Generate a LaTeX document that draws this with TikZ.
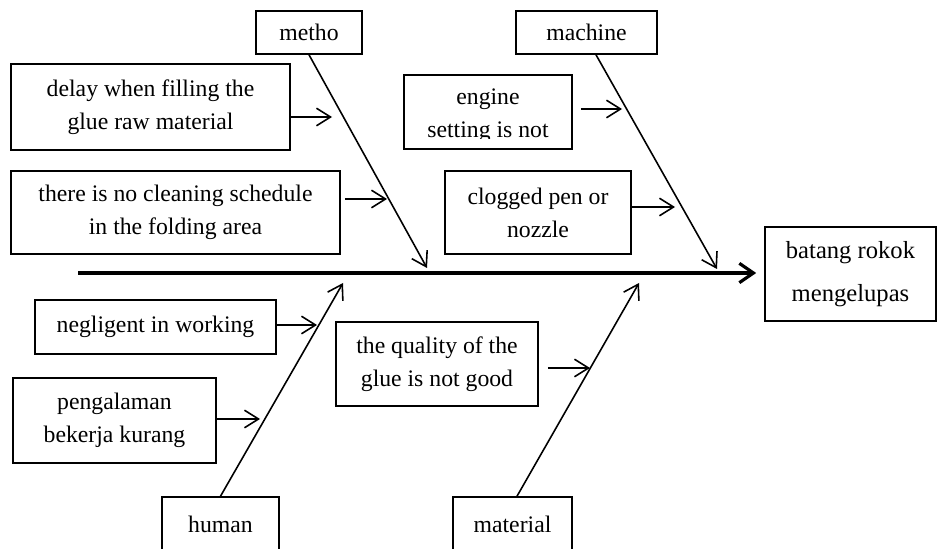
\documentclass[tikz,border=0pt]{standalone}
\usepackage{fontspec}
\setmainfont{Liberation Serif}
\usetikzlibrary{arrows.meta}

\tikzset{
  box/.style={draw, line width=0.9pt, align=center, inner sep=0pt,
    font=\fontsize{13.5}{18.8}\selectfont},
  bone/.style={line width=0.9pt, -{Straight Barb[length=8pt,width=10pt]}},
  spine/.style={line width=1.8pt, -{Straight Barb[length=8pt,width=11pt]}}
}

\begin{document}
\begin{tikzpicture}
		\useasboundingbox (0,0) rectangle (18.78,10.96);
		\clip (0,0) rectangle (18.78,10.96);
		
		% categories
		\node [box, minimum width=2.12cm, minimum height=0.86cm] (metho) at (6.18,10.31) {metho};
		\node [box, minimum width=2.82cm, minimum height=0.86cm] (machine) at (11.73,10.31) {machine};
		\node [box, minimum width=2.34cm, minimum height=1.08cm] (human) at (4.41,0.48) {human};
		\node [box, minimum width=2.38cm, minimum height=1.08cm] (material) at (10.25,0.48) {material};
		
		% effect
		\node [box, minimum width=3.42cm, minimum height=1.88cm, font=\fontsize{14}{24.5}\selectfont] (batang) at (17.01,5.48) {batang rokok\\mengelupas};
		
		% causes
		\node [box, minimum width=5.58cm, minimum height=1.72cm] (delay) at (3.01,8.82) {delay when filling the\\glue raw material};
		\node [box, minimum width=6.58cm, minimum height=1.66cm] (clean) at (3.51,6.71) {there is no cleaning schedule\\in the folding area};
		\node [box, minimum width=3.36cm, minimum height=1.48cm] (engine) at (9.76,8.72) {};
		\begin{scope}
			\clip (engine.north west) rectangle ([yshift=0.22cm]engine.south east);
			\node [box, draw=none] at ([yshift=-0.08cm]engine.center) {engine\\setting is not};
		\end{scope}
		\node [box, minimum width=3.72cm, minimum height=1.66cm] (clog) at (10.76,6.71) {clogged pen or\\nozzle};
		\node [box, minimum width=4.82cm, minimum height=1.08cm] (neglig) at (3.11,4.42) {negligent in working};
		\node [box, minimum width=4.06cm, minimum height=1.70cm] (pengal) at (2.29,2.55) {pengalaman\\bekerja kurang};
		\node [box, minimum width=4.04cm, minimum height=1.68cm] (quality) at (8.74,3.68) {the quality of the\\glue is not good};
		
		% spine and bones
		\coordinate (tail) at (1.56,5.50);
		\coordinate (mtip) at (8.54,5.60);
		\coordinate (ctip) at (14.34,5.58);
		\coordinate (htip) at (6.86,5.30);
		\coordinate (ltip) at (12.78,5.30);
		\draw [spine, shorten >=0.16cm] (tail) -- (batang.west |- tail);
		\draw [bone] (metho.south) -- (mtip);
		\draw [bone] ([xshift=0.19cm]machine.south) -- (ctip);
		\draw [bone] (human.north) -- (htip);
		\draw [bone] ([xshift=0.09cm]material.north) -- (ltip);
		
		% small arrows
		\coordinate (m1) at (6.64,8.62);
		\coordinate (m2) at (7.74,6.98);
		\coordinate (c1) at (12.44,8.78);
		\coordinate (c2) at (13.50,6.82);
		\coordinate (h1) at (6.34,4.46);
		\coordinate (h2) at (5.20,2.58);
		\coordinate (l1) at (11.80,3.60);
		\draw [bone] (delay.east |- m1) -- (m1);
		\draw [bone, shorten <=0.08cm] (clean.east |- m2) -- (m2);
		\draw [bone, shorten <=0.16cm] (engine.east |- c1) -- (c1);
		\draw [bone] (clog.east |- c2) -- (c2);
		\draw [bone] (neglig.east |- h1) -- (h1);
		\draw [bone] (pengal.east |- h2) -- (h2);
		\draw [bone, shorten <=0.18cm] (quality.east |- l1) -- (l1);
\end{tikzpicture}
\end{document}
